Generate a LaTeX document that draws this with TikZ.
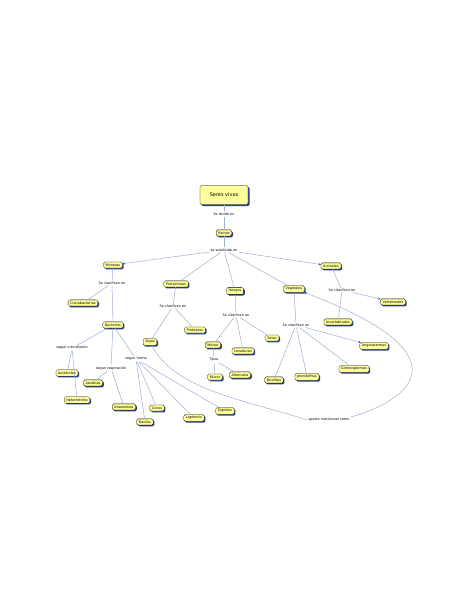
\documentclass[tikz,border=0pt]{standalone}
\usepackage{fontspec}
\setmainfont{DejaVu Sans}
\usetikzlibrary{shadows,arrows.meta}
\definecolor{boxfill}{HTML}{FFFF99}
\definecolor{shadowcol}{HTML}{2A3E9E}
\definecolor{linecol}{HTML}{9FAED6}
\definecolor{tipcol}{HTML}{2B44D0}
\tikzset{
  concept/.style={draw=black, line width=0.3pt, fill=boxfill, rounded corners=1.5pt,
    inner xsep=2.2pt, inner ysep=1.8pt, font=\fontsize{3.4}{4}\selectfont,
    drop shadow={shadow xshift=1.2pt, shadow yshift=-1.2pt, fill=shadowcol, opacity=1}},
  bigconcept/.style={concept, minimum width=48pt, minimum height=19pt, font=\fontsize{5}{6}\selectfont,
    drop shadow={shadow xshift=1.6pt, shadow yshift=-1.6pt, fill=shadowcol, opacity=1}},
  linklabel/.style={inner sep=1pt, font=\fontsize{3.4}{4}\selectfont},
  conn/.style={draw=linecol, line width=0.5pt},
  arr/.style={conn, -{Stealth[length=2.2pt,width=2.2pt,color=tipcol]}},
}
\begin{document}
\begin{tikzpicture}[x=1pt,y=-1pt]
\useasboundingbox[fill=white] (0,0) rectangle (474,613);
% concepts
\node[bigconcept] (seres) at (224,195) {Seres vivos};
\node[concept] (reinos) at (224,233) {Reinos};
\node[concept] (moneras) at (113,265) {Moneras};
\node[concept] (protoc) at (176,284) {Protoctistas};
\node[concept] (hongos) at (235,291) {Hongos};
\node[concept] (veget) at (294,289) {Vegetales};
\node[concept] (anim) at (331,266) {Animales};
\node[concept] (ciano) at (83,303) {Cianobacterias};
\node[concept] (bact) at (113,325) {Bacterias};
\node[concept] (algas) at (150,342) {Algas};
\node[concept] (protoz) at (195,330) {Protozoos};
\node[concept] (mohos) at (213,345) {Mohos};
\node[concept] (lev) at (243,351) {Levaduras};
\node[concept] (setas) at (272,338) {Setas};
\node[concept] (mucor) at (215,377) {Mucor};
\node[concept] (altern) at (240,375) {Alternaria};
\node[concept] (brio) at (274,380) {Briofitas};
\node[concept] (pteri) at (307,377) {pteridofitas};
\node[concept] (gimno) at (354,369) {Gimnospermas};
\node[concept] (angio) at (374,346) {Angiospermas};
\node[concept] (invert) at (338,322) {Invertebrados};
\node[concept] (vert) at (393,302) {Vertebrados};
\node[concept] (auto) at (67,373) {Autótrofos};
\node[concept] (hetero) at (77,400) {Heterótrofos};
\node[concept] (aero) at (93,383) {Aerobias};
\node[concept] (anaero) at (124,407) {Anaerobias};
\node[concept] (cocos) at (157,408) {Cocos};
\node[concept] (bacilos) at (145,422) {Bacilos};
\node[concept] (lopho) at (194,418) {Lophotrix};
\node[concept] (espi) at (225,411) {Espirilos};
% link labels
\node[linklabel] (ldivide) at (224,214) {Se divide en};
\node[linklabel] (lsub) at (224,250) {se subdivide en};
\node[linklabel] (lmon) at (112,283) {Se clasifican en};
\node[linklabel] (lpro) at (173,306) {Se clasifican en};
\node[linklabel] (lhon) at (236,315) {Se clasifican en};
\node[linklabel] (lveg) at (296,325) {Se clasifican en};
\node[linklabel] (lani) at (342,290) {Se clasifican en};
\node[linklabel] (ltipos) at (214,360) {Tipos};
\node[linklabel] (lcrec) at (72,348) {segun crecimiento};
\node[linklabel] (lresp) at (111,368) {segun respiración};
\node[linklabel] (lforma) at (136,359) {segun forma};
\node[linklabel] (laporte) at (329,420) {aporte nutricional como};
% connectors
\draw[conn] (seres) -- (ldivide) -- (reinos);
\draw[conn] (reinos) -- (lsub);
\draw[arr] (lsub) -- (moneras);
\draw[conn] (lsub) -- (protoc);
\draw[conn] (lsub) -- (hongos);
\draw[conn] (lsub) -- (veget);
\draw[arr] (lsub) -- (anim);
\draw[conn] (moneras) -- (lmon);
\draw[conn] (lmon) -- (ciano);
\draw[conn] (lmon) -- (bact);
\draw[conn] (bact) -- (lcrec);
\draw[conn] (bact) -- (lresp);
\draw[conn] (bact) -- (lforma);
\draw[conn] (lcrec) -- (auto);
\draw[conn] (lcrec) -- (hetero);
\draw[conn] (lresp) -- (aero);
\draw[conn] (lresp) -- (anaero);
\draw[conn] (lforma) -- (bacilos);
\draw[conn] (lforma) -- (cocos);
\draw[conn] (lforma) -- (lopho);
\draw[conn] (lforma) -- (espi);
\draw[conn] (protoc) -- (lpro);
\draw[conn] (lpro) -- (algas);
\draw[conn] (lpro) -- (protoz);
\draw[conn] (hongos) -- (lhon);
\draw[conn] (lhon) -- (mohos);
\draw[conn] (lhon) -- (lev);
\draw[conn] (lhon) -- (setas);
\draw[conn] (mohos) -- (ltipos);
\draw[conn] (ltipos) -- (mucor);
\draw[conn] (ltipos) -- (altern);
\draw[conn] (veget) -- (lveg);
\draw[conn] (lveg) -- (brio);
\draw[conn] (lveg) -- (pteri);
\draw[conn] (lveg) -- (gimno);
\draw[arr] (lveg) -- (angio);
\draw[conn] (anim) -- (lani);
\draw[conn] (lani) -- (invert);
\draw[arr] (lani) -- (vert);
\draw[conn] (algas) .. controls (175,390) and (245,400) .. (laporte.west);
\draw[arr] (laporte.north east) .. controls (410,400) and (470,355) .. (veget.south east);
\end{tikzpicture}
\end{document}
